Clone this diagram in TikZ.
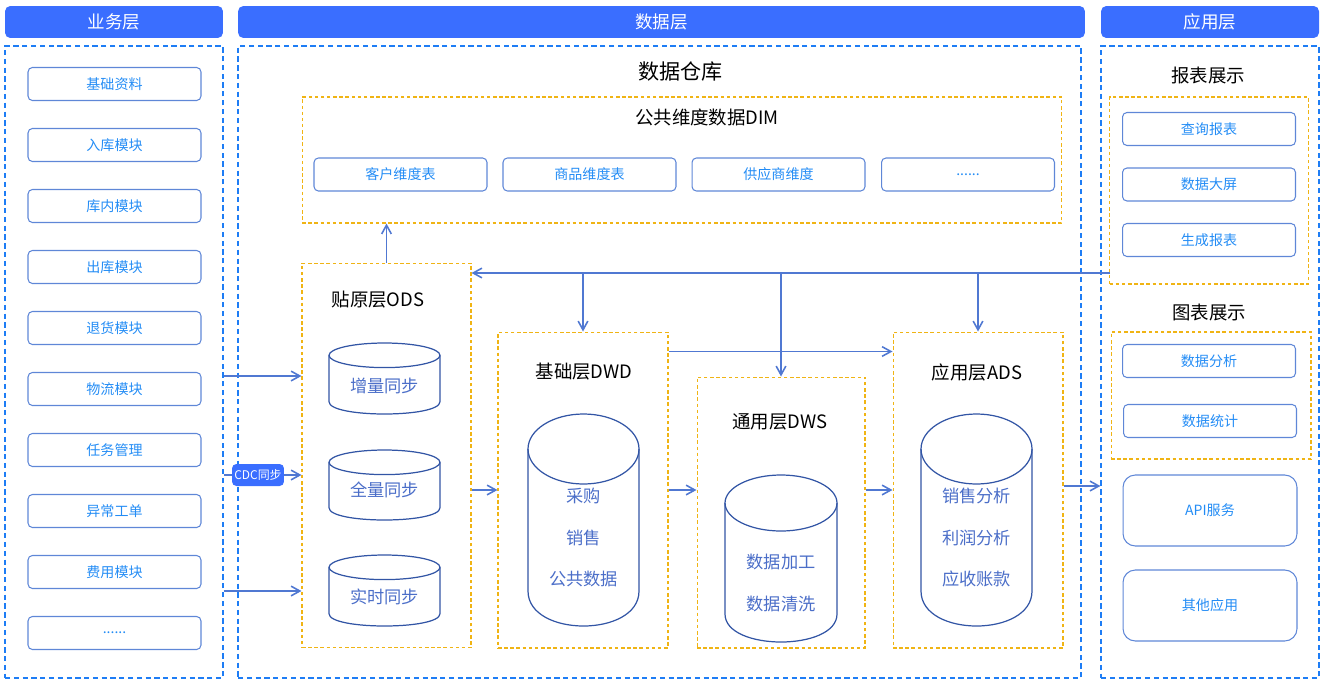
\documentclass[tikz,border=0pt]{standalone}
\usepackage{fontspec}
\setmainfont{Noto Sans CJK SC}
\usetikzlibrary{arrows.meta}

% database cylinder: centre x, top, bottom, half width, lid radius
\newcommand{\dbcyl}[5]{%
  \draw[cylline] (#1,#2+#5) ellipse[x radius=#4, y radius=#5];
  \draw[cylline] (#1-#4,#2+#5) -- (#1-#4,#3-#5)
    .. controls (#1-#4,#3+#5/3) and (#1+#4,#3+#5/3) .. (#1+#4,#3-#5) -- (#1+#4,#2+#5);
}
\newcommand{\moredots}{......} % placeholder box text

\begin{document}
\begin{tikzpicture}[
  x=0.02cm, y=-0.02cm, % one unit = one pixel of the layout
  >={Straight Barb[length=5pt,width=5.5pt]},
  head/.style={fill=headBlue, rounded corners=3pt, text=white, minimum height=0.64cm,
    inner sep=0pt, font=\fontsize{10}{12}\selectfont}, % blue title bars
  zone/.style={draw=zoneBlue, dash pattern=on 3pt off 2pt, line width=0.7pt,
    inner sep=0pt, minimum height=12.64cm}, % big dashed columns
  layer/.style={draw=layerGold, dash pattern=on 2pt off 1.5pt, line width=0.6pt,
    inner sep=0pt}, % orange dashed groups
  item/.style={draw=itemLine, rounded corners=2.5pt, text=itemText, minimum width=3.46cm,
    minimum height=0.66cm, inner sep=0pt, line width=0.6pt,
    font=\fontsize{8}{10}\selectfont}, % small rounded boxes
  title/.style={font=\fontsize{10.5}{12}\selectfont},
  cyltext/.style={text=cylText, font=\fontsize{9.8}{12}\selectfont},
  cylline/.style={draw=cylLine, line width=0.7pt},
  flowline/.style={draw=flowBlue, line width=0.9pt},
  flow/.style={->, flowline},
  cdcbox/.style={fill=headBlue, rounded corners=2.5pt, text=white, minimum width=1.04cm,
    minimum height=0.44cm, inner sep=0pt, font=\fontsize{6.8}{8}\selectfont}
]

% Define colors for styling
\definecolor{headBlue}{RGB}{58,110,255}   % title bars
\definecolor{zoneBlue}{RGB}{30,125,245}   % dashed columns
\definecolor{layerGold}{RGB}{240,180,20}  % dashed groups
\definecolor{itemLine}{RGB}{95,135,215}   % box borders
\definecolor{itemText}{RGB}{35,140,245}   % box texts
\definecolor{cylLine}{RGB}{50,85,165}     % cylinder outlines
\definecolor{cylText}{RGB}{75,110,200}    % cylinder texts
\definecolor{flowBlue}{RGB}{80,120,210}   % connectors

\useasboundingbox (0,0) rectangle (1327,686);

% Three columns
\node[head, minimum width=4.36cm] (bizhead) at (114,22) {业务层};
\node[head, minimum width=16.94cm] (datahead) at (661.5,22) {数据层};
\node[head, minimum width=4.36cm] (apphead) at (1210,22) {应用层};
\node[zone, minimum width=4.36cm] (biz) at (114,362) {};
\node[zone, minimum width=16.86cm] (data) at (659.5,362) {};
\node[zone, minimum width=4.36cm] (app) at (1210,362) {};

% Business modules
\foreach \name [count=\i] in {基础资料,入库模块,库内模块,出库模块,退货模块,物流模块,任务管理,异常工单,费用模块,\moredots}
  \node[item] (b\i) at (114.5,23+61*\i) {\name};

% Data warehouse
\node[font=\fontsize{12}{14}\selectfont] (dwtitle) at (680.5,72) {数据仓库};
\node[layer, minimum width=15.2cm, minimum height=2.52cm] (dim) at (682,160) {};
\node[title] (dimtitle) at (707,117) {公共维度数据DIM};
\foreach \name/\x [count=\i] in {客户维度表/400.5,商品维度表/589.5,供应商维度/778.5,\moredots/968}
  \node[item] (d\i) at (\x,174.5) {\name};

\node[layer, minimum width=3.38cm, minimum height=7.7cm] (ods) at (386.5,455.5) {};
\node[layer, minimum width=3.4cm, minimum height=6.32cm] (dwd) at (583,490) {};
\node[layer, minimum width=3.36cm, minimum height=5.42cm] (dws) at (781,512.5) {};
\node[layer, minimum width=3.4cm, minimum height=6.32cm] (ads) at (978,490) {};
\node[title] (odstitle) at (378,300) {贴原层ODS};
\node[title] (dwdtitle) at (584,372) {基础层DWD};
\node[title] (dwstitle) at (780,422) {通用层DWS};
\node[title] (adstitle) at (977,372) {应用层ADS};

% ODS cylinders
\dbcyl{384.5}{343}{414}{55.5}{12.3}
\dbcyl{384.5}{450}{520}{55.5}{12.3}
\dbcyl{384.5}{555}{626}{55.5}{12.3}
\node[cyltext] (o1) at (384.5,386) {增量同步};
\node[cyltext] (o2) at (384.5,490) {全量同步};
\node[cyltext] (o3) at (384.5,597) {实时同步};

% DWD, DWS, ADS cylinders
\dbcyl{583.5}{414}{626}{55.5}{35}
\dbcyl{781}{475}{642}{56}{28}
\dbcyl{976.5}{414}{626}{55.5}{35}
\foreach \name/\y [count=\i] in {采购/496,销售/538,公共数据/579}
  \node[cyltext] (w\i) at (583.5,\y) {\name};
\foreach \name/\y [count=\i] in {数据加工/562,数据清洗/604}
  \node[cyltext] (s\i) at (781,\y) {\name};
\foreach \name/\y [count=\i] in {销售分析/496,利润分析/538,应收账款/579}
  \node[cyltext] (a\i) at (976.5,\y) {\name};

% Applications
\node[title] (reptitle) at (1208,76) {报表展示};
\node[layer, minimum width=3.98cm, minimum height=3.74cm] (rep) at (1209,190.5) {};
\foreach \name/\y [count=\i] in {查询报表/129,数据大屏/184.5,生成报表/240}
  \node[item] (r\i) at (1209,\y) {\name};
\node[title] (charttitle) at (1209,312) {图表展示};
\node[layer, minimum width=4cm, minimum height=2.54cm] (chart) at (1211,395.5) {};
\node[item] (c1) at (1209,361) {数据分析};
\node[item] (c2) at (1210,421) {数据统计};
\node[item, minimum width=3.48cm, minimum height=1.42cm, rounded corners=7pt] (api) at (1210,510.5) {API服务};
\node[item, minimum width=3.48cm, minimum height=1.42cm, rounded corners=7pt] (other) at (1210,605.5) {其他应用};

% Sync into ODS
\coordinate (sync1) at (0,376);
\coordinate (sync3) at (0,591);
\draw[flow] (biz.east |- sync1) -- (ods.west |- sync1);
\node[cdcbox] (cdc) at (258,475) {CDC同步};
\draw[flowline] (biz.east |- cdc) -- (cdc.west);
\draw[flow] (cdc.east) -- (ods.west |- cdc);
\draw[flow] (biz.east |- sync3) -- (ods.west |- sync3);

% Layer flow
\draw[flow] (ods.north) -- (ods.north |- dim.south);
\coordinate (feed) at (1110,273);
\draw[flow] (feed) -- (ods.east |- feed);
\foreach \t in {dwd,dws,ads}
  \draw[flow] (\t.north |- feed) -- (\t.north);
\draw[flow] ([yshift=-0.4cm]dwd.north east) -- ([yshift=-0.4cm]ads.north west);
\draw[flow] (ods.east |- dwd) -- (dwd.west);
\draw[flow] (dwd.east) -- (dws.west |- dwd.east);
\draw[flow] (dws.east |- ads) -- (ads.west);
\coordinate (out) at ([yshift=0.08cm]ads.east);
\draw[flow] (out) -- (app.west |- out);

\end{tikzpicture}
\end{document}
